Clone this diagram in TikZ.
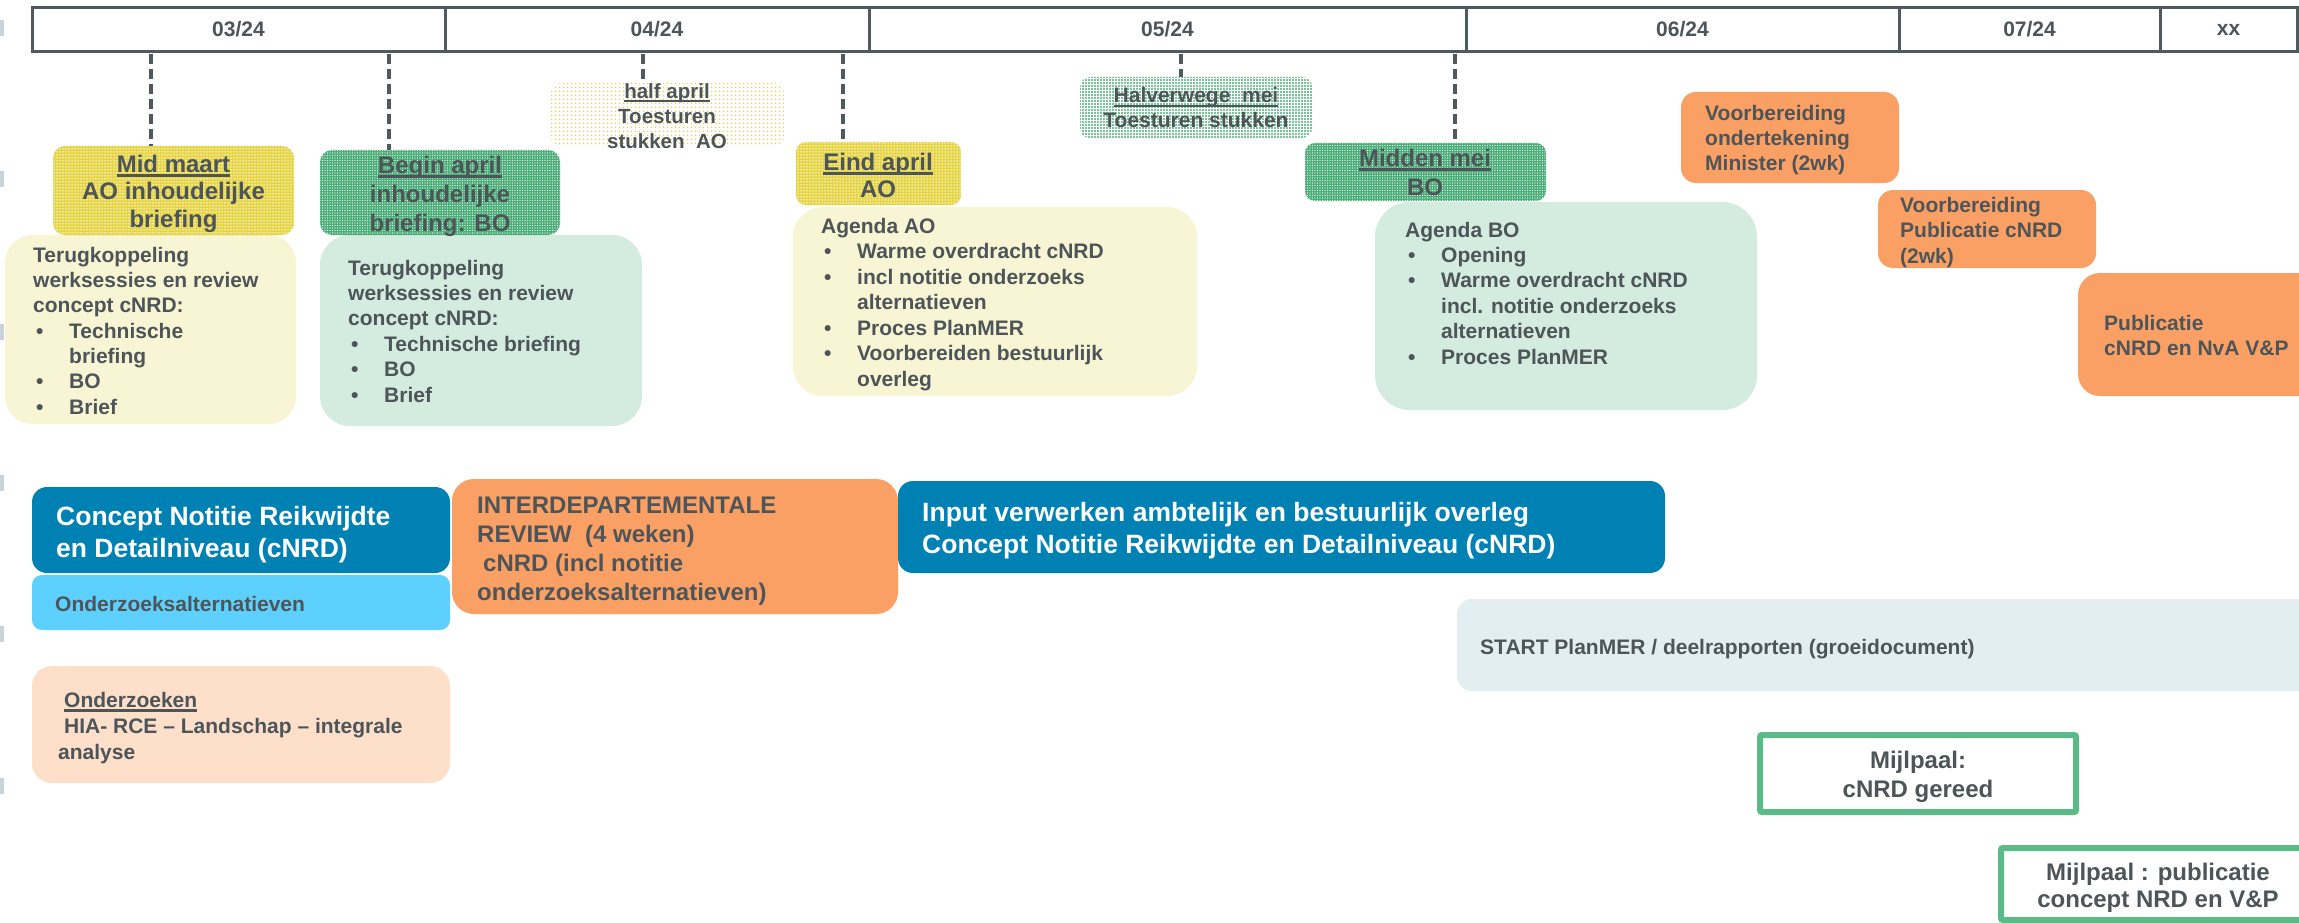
\documentclass[tikz,border=0pt]{standalone}
\usepackage{fontspec}
\setmainfont{Liberation Sans}
\usetikzlibrary{patterns.meta}

\definecolor{txtgray}{HTML}{4D5559}
\definecolor{linegray}{HTML}{50595E}
\definecolor{tickgray}{HTML}{C9D3DA}
\definecolor{ydot}{HTML}{E5D443}
\definecolor{gdot}{HTML}{4AAE78}
\definecolor{ltyellow}{HTML}{F8F5D4}
\definecolor{ltgreen}{HTML}{D4EBDF}
\definecolor{dkblue}{HTML}{0081B4}
\definecolor{ltblue}{HTML}{5DD0FD}
\definecolor{orangec}{HTML}{FBA064}
\definecolor{peach}{HTML}{FDDFCA}
\definecolor{startc}{HTML}{E3EEF2}
\definecolor{mpgreen}{HTML}{5CB988}

% font size / baseline skip, always bold
\newcommand\fs[2]{\fontsize{#1}{#2}\selectfont\bfseries}
% bullet item and hanging continuation line
\newcommand\bul[1]{\makebox[36pt][l]{\hspace{3pt}\textbullet}#1}
\newcommand\hang[1]{\hspace*{36pt}#1}
% underline at a fixed depth
\newcommand\uln[1]{\setbox0\hbox{#1}\rlap{\rule[-4.5pt]{\wd0}{2.2pt}}\box0}
% a card spanning (x1,y1)-(x2,y2)
\newcommand\boxcard[6]{\node[card,#6,minimum width=#4pt-#2pt,minimum height=#5pt-#3pt] (#1) at (#2,#3) {};}

\tikzset{
  card/.style={inner sep=0pt, outer sep=0pt, anchor=north west, rectangle},
  cell/.style={draw=linegray, line width=3pt, minimum height=44pt, inner sep=0pt,
    text=txtgray, font=\fs{21}{25}},
  % text nodes are placed at the baseline of their last line
  lbl/.style={inner sep=0pt, text=txtgray, anchor=base west, align=left},
  clbl/.style={inner sep=0pt, text=txtgray, anchor=base, align=center},
  tick/.style={draw=linegray, line width=4pt, dash pattern=on 10pt off 5pt},
  yellowdots/.style={fill=ydot, postaction={pattern={Dots[distance=3pt,radius=0.75pt]}, pattern color=white}},
  greenchk/.style={fill=gdot, postaction={pattern={Dots[distance=2.5pt,radius=0.7pt]}, pattern color=white}},
  greendots/.style={fill=white, postaction={pattern={Dots[distance=3pt,radius=1.05pt]}, pattern color=gdot}},
  sparseyellow/.style={fill=white, postaction={pattern={Dots[distance=4pt,radius=0.95pt]}, pattern color=ydot}},
  milestone/.style={draw=mpgreen, line width=6pt, fill=white, rounded corners=2pt},
}

\begin{document}
\begin{tikzpicture}[x=1pt,y=-1pt]
\useasboundingbox (0,0) rectangle (2299,923);
\fill[white] (0,0) rectangle (2299,923);

% small marks along the left edge
\foreach \yy in {28,179,332,483,634,786}
  \fill[tickgray] (0,\yy-8) rectangle (4,\yy+8);

% month header
\node[cell, minimum width=413pt] (m03) at (238.5,29.5) {03/24};
\node[cell, minimum width=424pt] (m04) at (657,29.5) {04/24};
\node[cell, minimum width=597pt] (m05) at (1167.5,29.5) {05/24};
\node[cell, minimum width=433pt] (m06) at (1682.5,29.5) {06/24};
\node[cell, minimum width=261pt] (m07) at (2029.5,29.5) {07/24};
\node[cell, minimum width=137pt] (mxx) at (2228.5,29.5) {xx};

% agenda / feedback cards
\boxcard{tka}{5}{235}{296}{424}{fill=ltyellow, rounded corners=28pt}
\boxcard{tkb}{320}{235}{642}{426}{fill=ltgreen, rounded corners=30pt}
\boxcard{agao}{793}{207}{1197}{396}{fill=ltyellow, rounded corners=30pt}
\boxcard{agbo}{1375}{202}{1757}{410}{fill=ltgreen, rounded corners=35pt}

% meeting moments
\boxcard{mid}{53}{146}{294}{235}{yellowdots, rounded corners=12pt}
\boxcard{begin}{320}{150}{560}{235}{greenchk, rounded corners=12pt}
\boxcard{half}{551}{83}{784}{147}{sparseyellow, rounded corners=10pt}
\boxcard{eind}{796}{142}{961}{205}{yellowdots, rounded corners=10pt}
\boxcard{halver}{1080}{77}{1312}{138}{greendots, rounded corners=10pt}
\boxcard{midden}{1305}{143}{1546}{201}{greenchk, rounded corners=10pt}

% orange preparation steps
\boxcard{vba}{1681}{92}{1899}{183}{fill=orangec, rounded corners=15pt}
\boxcard{vbb}{1878}{190}{2096}{268}{fill=orangec, rounded corners=15pt}
\boxcard{pub}{2078}{273}{2340}{396}{fill=orangec, rounded corners=22pt}

% process bars
\boxcard{cnrd}{32}{487}{450}{573}{fill=dkblue, rounded corners=15pt}
\boxcard{alt}{32}{575}{450}{630}{fill=ltblue, rounded corners=10pt}
\boxcard{review}{452}{479}{898}{614}{fill=orangec, rounded corners=22pt}
\boxcard{input}{898}{481}{1665}{573}{fill=dkblue, rounded corners=15pt}
\boxcard{onderz}{32}{666}{450}{783}{fill=peach, rounded corners=20pt}
\boxcard{start}{1457}{599}{2340}{691}{fill=startc, rounded corners=15pt}

% milestones
\boxcard{mpa}{1760}{735}{2076}{812}{milestone}
\boxcard{mpb}{2001}{848}{2360}{920}{milestone}

% dashed ticks from the header
\coordinate (d1) at (151,54);
\coordinate (d2) at (389,54);
\coordinate (d3) at (643,54);
\coordinate (d4) at (843,54);
\coordinate (d5) at (1181,54);
\coordinate (d6) at (1455,54);
\draw[tick] (d1) -- (d1 |- mid.north);
\draw[tick] (d2) -- (d2 |- begin.north);
\draw[tick] (d3) -- (d3 |- half.north);
\draw[tick] (d4) -- (d4 |- eind.north);
\draw[tick] (d5) -- (d5 |- halver.north);
\draw[tick] (d6) -- (d6 |- midden.north);

% texts of the meeting moments
\node[clbl, font=\fs{24}{27.5}] (t-mid) at (173.5,227) {\uln{Mid maart}\\AO inhoudelijke\\briefing};
\node[clbl, font=\fs{24}{29}] (t-begin) at (440,231) {\uln{Begin april}\\inhoudelijke\\briefing: BO};
\node[clbl, font=\fs{20.5}{25.5}] (t-half) at (667,149) {\uln{half april}\\Toesturen\\stukken\ \ AO};
\node[clbl, font=\fs{24}{27}] (t-eind) at (878,197) {\uln{Eind april}\\AO};
\node[clbl, font=\fs{21}{25}] (t-halver) at (1196,128) {\uln{Halverwege\ \ mei}\\Toesturen stukken};
\node[clbl, font=\fs{24}{29}] (t-midden) at (1425,195) {\uln{Midden mei}\\BO};

% texts of the cards
\node[lbl, font=\fs{21}{25.3}] (t-tka) at (33,414) {Terugkoppeling\\werksessies en review\\concept cNRD:\\\bul{Technische}\\\hang{briefing}\\\bul{BO}\\\bul{Brief}};
\node[lbl, font=\fs{21}{25.4}] (t-tkb) at (348,402) {Terugkoppeling\\werksessies en review\\concept cNRD:\\\bul{Technische briefing}\\\bul{BO}\\\bul{Brief}};
\node[lbl, font=\fs{21}{25.5}] (t-agao) at (821,386) {Agenda AO\\\bul{Warme overdracht cNRD}\\\bul{incl notitie onderzoeks}\\\hang{alternatieven}\\\bul{Proces PlanMER}\\\bul{Voorbereiden bestuurlijk}\\\hang{overleg}};
\node[lbl, font=\fs{21}{25.4}] (t-agbo) at (1405,364) {Agenda BO\\\bul{Opening}\\\bul{Warme overdracht cNRD}\\\hang{incl. notitie onderzoeks}\\\hang{alternatieven}\\\bul{Proces PlanMER}};

\node[lbl, font=\fs{21}{25.5}] (t-vba) at (1705,171) {Voorbereiding\\ondertekening\\Minister (2wk)};
\node[lbl, font=\fs{21}{25.5}] (t-vbb) at (1900,263) {Voorbereiding\\Publicatie cNRD\\(2wk)};
\node[lbl, font=\fs{21}{25}] (t-pub) at (2104,355) {Publicatie\\cNRD en NvA V\&P};

\node[lbl, font=\fs{26.5}{32}, text=white] (t-cnrd) at (56,557) {Concept Notitie Reikwijdte\\en Detailniveau (cNRD)};
\node[lbl, font=\fs{21}{25}] (t-alt) at (55,611) {Onderzoeksalternatieven};
\node[lbl, font=\fs{24}{29}] (t-review) at (477,600) {INTERDEPARTEMENTALE\\REVIEW\ \ (4 weken)\\\hspace*{6pt}cNRD (incl notitie\\onderzoeksalternatieven)};
\node[lbl, font=\fs{26.5}{32}, text=white] (t-input) at (922,553) {Input verwerken ambtelijk en bestuurlijk overleg\\Concept Notitie Reikwijdte en Detailniveau (cNRD)};
\node[lbl, font=\fs{21}{26}] (t-onderz) at (58,759) {\hspace*{6pt}\uln{Onderzoeken}\\\hspace*{6pt}HIA- RCE – Landschap – integrale\\analyse};
\node[lbl, font=\fs{21}{25}] (t-start) at (1480,654) {START PlanMER / deelrapporten (groeidocument)};

\node[clbl, font=\fs{24}{29}] (t-mpa) at (1918,797) {Mijlpaal:\\cNRD gereed};
\node[clbl, font=\fs{24}{27}] (t-mpb) at (2158,907) {Mijlpaal : publicatie\\concept NRD en V\&P};
\end{tikzpicture}
\end{document}
